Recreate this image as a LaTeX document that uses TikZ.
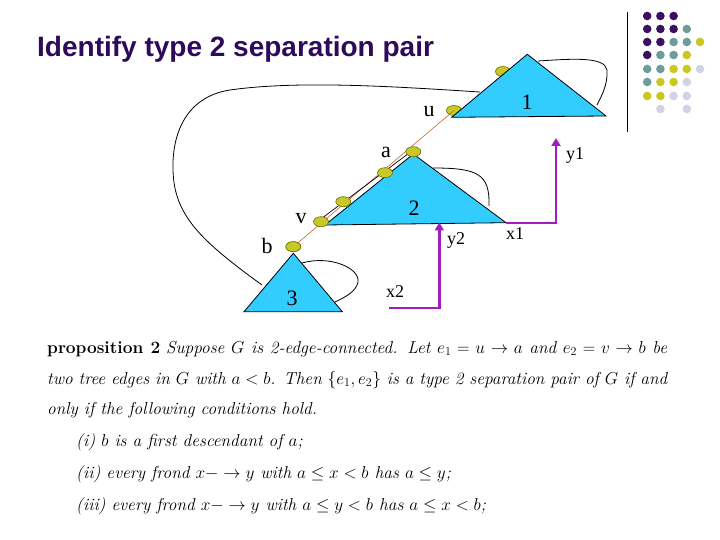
\documentclass[tikz,border=0pt]{standalone}
\usepackage{fontspec}
\usepackage{amssymb}
\newfontfamily\titlefont{Liberation Sans}
\newfontfamily\labfont{Liberation Serif}
\usetikzlibrary{arrows.meta,shapes.geometric}
\definecolor{titlepurple}{RGB}{46,10,90}
\definecolor{gpurple}{RGB}{60,16,96}
\definecolor{gteal}{RGB}{110,155,155}
\definecolor{gyellow}{RGB}{200,200,30}
\definecolor{glav}{RGB}{210,210,230}
\definecolor{tricyan}{RGB}{51,204,255}
\definecolor{dotfill}{RGB}{200,200,40}
\definecolor{dotline}{RGB}{110,110,0}
\definecolor{treeorange}{RGB}{200,100,50}
\definecolor{frondpurple}{RGB}{160,30,190}
\tikzset{
  tri/.style={draw=black,fill=tricyan,line width=0.8pt,line join=miter},
  loopline/.style={draw=black,line width=0.8pt},
  dotnode/.style={ellipse,draw=dotline,fill=dotfill,line width=0.6pt,minimum width=15pt,minimum height=10pt,inner sep=0pt},
  lab/.style={font=\labfont\fontsize{22}{24}\selectfont,inner sep=0pt},
  xylab/.style={font=\labfont\fontsize{18}{20}\selectfont,inner sep=0pt},
  frond/.style={draw=frondpurple,line width=2.4pt,-{Triangle[width=9pt,length=8pt]}},
  gdot/.style={circle,minimum size=8.6pt,inner sep=0pt},
  para/.style={font=\fontsize{17.3}{20}\selectfont,inner sep=0pt,anchor=base west},
}
\begin{document}
\begin{tikzpicture}[x=1pt,y=-1pt]
\useasboundingbox (0,0) rectangle (720,540);
% title
\node[anchor=base west,inner sep=0pt,font=\titlefont\bfseries\fontsize{28}{32}\selectfont,text=titlepurple] (title) at (37,57) {Identify type 2 separation pair};
% decoration
\draw[line width=1pt] (627.7,12) -- (627.7,132);
\foreach \r/\cols in {16/{1/gpurple,2/gpurple,3/gpurple},
                      29/{1/gpurple,2/gpurple,3/gpurple,4/gteal},
                      42/{1/gpurple,2/gpurple,3/gteal,4/gteal,5/gyellow},
                      55/{1/gpurple,2/gteal,3/gteal,4/gyellow},
                      69/{1/gteal,2/gteal,3/gyellow,4/gyellow,5/glav},
                      82/{1/gteal,2/gyellow,3/gyellow,4/glav},
                      96/{1/gyellow,2/gyellow,3/glav,4/glav},
                      109/{2/glav,4/glav}}{
  \foreach \c/\col in \cols {
    \node[gdot,fill=\col] at ({634+13.2*\c},\r) {};
  }
}
% triangle corners
\coordinate (t1a) at (527.3,54.3);
\coordinate (t1l) at (451.7,117.3);
\coordinate (t1r) at (606,116);
\coordinate (t2a) at (413.3,154);
\coordinate (t2l) at (325,225);
\coordinate (t2r) at (506,222.7);
\coordinate (t3a) at (293.3,253.3);
\coordinate (t3l) at (244,311.7);
\coordinate (t3r) at (342.3,311.7);
% fronds (curves)
\coordinate (c1) at (480,92);
\coordinate (c2) at (262,285);
\draw[loopline] (c1) .. controls (400,87) and (300,80) .. (230,90)
  .. controls (185,97) and (172,135) .. (173,170)
  .. controls (174,215) and (200,240) .. (c2);
\coordinate (l1s) at (538,61);
\coordinate (l1e) at (597,105);
\draw[loopline] (l1s) .. controls (570,59) and (605,56) .. (607,70)
  .. controls (608,85) and (601,97) .. (l1e);
\coordinate (l2s) at (433,168);
\coordinate (l2e) at (489,206);
\draw[loopline] (l2s) .. controls (478,168) and (490,174) .. (l2e);
\coordinate (l3s) at (302,263);
\coordinate (l3e) at (335,302);
\draw[loopline] (l3s) .. controls (330,255) and (360,268) .. (358,282)
  .. controls (356,292) and (345,297) .. (l3e);
% hidden dots behind triangle 1
\node[dotnode] (du) at (454,110.5) {};
\node[dotnode] (dt) at (503,71.5) {};
% triangles
\draw[tri] (t1l) -- (t1a) -- (t1r) -- cycle;
\draw[tri] (t2l) -- (t2a) -- (t2r) -- cycle;
\draw[tri] (t3l) -- (t3a) -- (t3r) -- cycle;
% tree path
\node[dotnode] (db) at (293.3,246.7) {};
\draw[treeorange,line width=0.6pt] (du.center) -- (db.center);
\draw[black,line width=0.7pt] (410.5,152) -- (319.5,220);
\node[dotnode] (da) at (413.3,151.7) {};
\node[dotnode] (d1) at (385,172.7) {};
\node[dotnode] (d2) at (343.3,201.7) {};
\node[dotnode] (dv) at (321,221.7) {};
\node[dotnode] at (db) {};
% frond arrows
\coordinate (x1p) at (506,223.3);
\coordinate (y1p) at (556,138);
\draw[frond] (x1p) -- (556,223.3) -- (y1p);
\coordinate (x2p) at (389.3,307.7);
\coordinate (y2p) at (439.3,222.5);
\draw[frond] (x2p) -- (439.3,307.7) -- (y2p);
% labels
\node[lab] (lu) at (429,112) {u};
\node[lab] (la) at (386,152) {a};
\node[lab] (lv) at (301,219) {v};
\node[lab] (lb) at (267,246) {b};
\node[lab] (n1) at (527,102) {1};
\node[lab] (n2) at (414,208) {2};
\node[lab] (n3) at (292,298) {3};
\node[xylab] (lx1) at (515,234) {x1};
\node[xylab] (ly1) at (575,156) {y1};
\node[xylab] (lx2) at (395,292) {x2};
\node[xylab] (ly2) at (456,240) {y2};
% proposition
\node[para] (p1) at (47,353) {\makebox[620pt][s]{\textbf{proposition 2} \itshape Suppose $G$ is 2-edge-connected. Let $e_1 = u \rightarrow a$ and $e_2 = v \rightarrow b$ be}};
\node[para] (p2) at (47,384) {\makebox[620pt][s]{\itshape two tree edges in $G$ with $a < b$. Then $\{e_1, e_2\}$ is a type 2 separation pair of $G$ if and}};
\node[para] (p3) at (47,414) {\itshape only if the following conditions hold.};
\node[para] (p4) at (76,446) {\itshape (i) $b$ is a first descendant of $a$;};
\node[para] (p5) at (76,478) {\itshape (ii) every frond $x - \rightarrow y$ with $a \leq x < b$ has $a \leq y$;};
\node[para] (p6) at (76,510) {\itshape (iii) every frond $x - \rightarrow y$ with $a \leq y < b$ has $a \leq x < b$;};
\end{tikzpicture}
\end{document}
